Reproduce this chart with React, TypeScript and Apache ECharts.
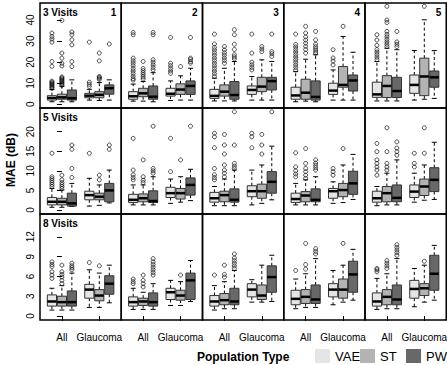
import React, { useEffect, useRef } from "react";
import * as echarts from "echarts";

const VISITS = ["3 Visits", "5 Visits", "8 Visits"];
const PANELS = ["1", "2", "3", "4", "5"];
const GROUPS = ["All", "Glaucoma"];
const METHODS = ["VAE", "ST", "PW"];
const Y_MAX_TICK = [40, 20, 12];
const Y_STEP = [10, 5, 3];
const X_TITLE = "Population Type";
const Y_TITLE = "MAE (dB)";

// [lower whisker, Q1, median, Q3, upper whisker]; per panel order:
// All-VAE, All-ST, All-PW, Glaucoma-VAE, Glaucoma-ST, Glaucoma-PW
const BOX_3V = [
  [[1.2, 2.0, 3.0, 4.1, 7.0], [1.2, 2.4, 3.3, 4.8, 8.5], [1.2, 2.0, 2.9, 6.8, 11.6], [2.0, 3.1, 4.1, 5.2, 7.1], [1.8, 3.1, 4.5, 6.0, 10.3], [2.0, 4.8, 7.6, 9.2, 11.6]],
  [[1.5, 2.4, 3.8, 6.0, 9.6], [1.5, 3.6, 5.2, 7.6, 10.8], [1.2, 2.4, 3.6, 8.7, 15.0], [1.8, 3.9, 5.0, 7.6, 11.1], [2.0, 4.7, 7.0, 9.7, 13.5], [2.0, 4.7, 8.7, 11.1, 17.1]],
  [[1.6, 2.8, 4.0, 7.1, 12.4], [1.6, 3.9, 6.0, 9.2, 17.1], [1.6, 2.4, 4.4, 10.8, 20.3], [2.0, 4.7, 6.8, 8.7, 13.2], [2.0, 6.0, 8.4, 12.8, 21.1], [2.0, 6.8, 11.0, 12.8, 20.3]],
  [[1.2, 2.4, 4.2, 8.1, 15.5], [1.5, 2.4, 5.5, 11.9, 21.4], [1.2, 2.0, 3.5, 11.1, 23.5], [2.0, 4.7, 6.5, 10.0, 16.3], [2.0, 8.1, 9.2, 17.9, 32.2], [2.0, 6.3, 11.3, 13.9, 24.7]],
  [[1.6, 3.3, 4.7, 10.5, 20.3], [1.6, 3.2, 8.7, 13.6, 26.6], [1.6, 3.2, 6.3, 12.8, 25.9], [2.0, 5.2, 9.2, 13.9, 25.5], [2.4, 4.1, 13.2, 21.9, 40.1], [2.8, 8.1, 12.8, 15.8, 25.5]],
];
const OUT_3V = [
  [[7.5, 8, 8.5, 9, 9.5, 10, 10.5, 11, 18, 20.3, 29.5, 31, 32.2, 33.8], [9, 9.5, 10, 10.5, 11, 11.5, 12, 12.5, 13, 18.2, 19.5, 21.9, 24.3, 39.8], [17.9, 20.3, 28.2, 30.6, 33, 34.3], [8.5, 9.5, 10.5, 29.5], [11.8, 12.3, 12.8, 13.2, 20.6, 24.3], [28.6]],
  [[11.5, 12.2, 13.3, 14.6, 15.8, 17, 18.3, 19.5, 20.6, 21.9, 33, 34.1], [12, 13, 14, 15, 16, 17, 20.3], [16.3, 17.5, 18.7, 20, 21.2, 33, 34.1], [14.7, 15.8, 17, 18.3, 19.5, 31.7], [17.9], [19.5, 20.3, 21.2, 21.9, 31.7]],
  [[13.2, 14.5, 15.8, 17, 18.3, 19.5, 20.8, 22, 23.3, 24.5, 25.8, 27, 28.6, 33.3], [19.5, 20.8, 22, 23.3, 24.5, 25.8, 27.4], [21.5, 22.5, 23.5, 26, 28.5, 33, 35.4], [16.3, 17.5, 18.7, 20, 24.3, 33.3], [25, 26.2, 27.4], [22.7, 24, 25, 33.3]],
  [[16.3, 17.5, 18.7, 20, 21.2, 22.4, 23.6, 24.8, 26, 27.2, 28.4, 33.3], [24.3, 26, 27.5, 29, 30.5, 32, 33.8, 37], [24.3, 25.3, 26.3, 27.3, 28.5, 30.6, 34.6], [18.7, 20.5, 22, 25.9], [37], []],
  [[21.2, 22.4, 23.6, 24.8, 26, 28, 30.5, 33], [27.4, 28.5, 29.6, 30.8, 32, 33.2, 34.6, 38.8, 40, 46.5], [27.4, 28.5, 29.6, 34.6], [], [46.5], []],
];

const BOX_5V = [
  [[0.7, 1.3, 2.1, 3.2, 5.5], [0.7, 1.3, 2.1, 3.0, 5.1], [0.9, 1.0, 1.7, 4.3, 6.8], [1.0, 2.6, 3.8, 4.8, 8.1], [1.2, 2.6, 3.4, 4.3, 6.4], [1.8, 2.1, 5.0, 6.8, 10.2]],
  [[1.3, 1.9, 2.6, 4.0, 6.4], [1.3, 2.1, 3.0, 4.1, 6.4], [1.3, 1.9, 2.3, 4.9, 8.5], [1.7, 3.2, 4.3, 5.8, 7.9], [2.0, 2.8, 4.3, 5.5, 8.5], [2.4, 3.8, 6.4, 8.2, 10.4]],
  [[1.1, 2.0, 3.0, 4.5, 6.0], [1.1, 2.1, 3.8, 4.8, 7.9], [1.1, 2.0, 2.6, 5.4, 10.2], [1.3, 3.4, 4.8, 6.2, 10.2], [1.7, 3.0, 4.8, 6.6, 11.5], [2.6, 4.3, 7.2, 9.8, 16.3]],
  [[1.3, 1.9, 2.8, 4.3, 6.8], [1.3, 2.1, 3.7, 4.7, 7.7], [1.3, 2.1, 2.6, 5.4, 8.5], [1.7, 3.0, 4.8, 5.5, 7.2], [1.9, 3.4, 5.1, 6.8, 11.5], [2.7, 4.0, 6.8, 9.9, 14.2]],
  [[1.1, 2.0, 3.0, 4.8, 6.0], [1.3, 2.1, 4.3, 6.0, 9.4], [1.3, 2.1, 3.1, 6.4, 12.8], [2.0, 3.2, 4.7, 6.4, 9.4], [2.5, 3.7, 6.0, 7.9, 11.5], [2.7, 4.7, 7.7, 10.8, 17.3]],
];
const OUT_5V = [
  [[6, 6.5, 7, 7.5, 8, 8.5, 14.5], [5.5, 6, 6.5, 7, 7.7, 8.9], [8.3, 10.6, 15.5, 16.6], [14.5], [7.7, 8.9], [15.5, 16.6]],
  [[7.7, 8.3, 9, 10.2, 18.3], [7, 7.6, 8.5, 12.8], [9.4, 10, 10.6, 21.4], [9.8, 18.3], [12.8], [21.4]],
  [[7.7, 8.3, 9, 10.6, 15.9, 18.7, 19.6], [8.5, 9.4, 10.2, 11.5, 14.3, 16.6, 19.3], [10.6, 11.2, 11.9, 16.6, 25.1], [15.9, 18.7, 19.6], [14.3, 16.6, 19.3], [25.1]],
  [[8.5, 9.2, 10, 11, 14.6], [8.1, 8.9, 9.8, 10.6, 11.9, 15.7], [10.2, 10.8, 11.4, 12, 12.8], [8.9, 9.8, 10.6], [15.7], []],
  [[8.9, 10.2, 11, 11.9, 12.8, 14.9, 17], [10.2, 11, 11.9, 14.9, 21], [14, 14.9, 15.8, 17.4], [11, 11.9, 14.5], [14.5, 21], []],
];

const BOX_8V = [
  [[0.9, 1.5, 2.2, 3.2, 4.2], [0.9, 1.5, 2.1, 3.0, 4.6], [0.9, 1.5, 2.1, 3.8, 6.5], [1.3, 2.7, 4.0, 4.8, 7.0], [1.3, 2.3, 3.1, 4.0, 6.5], [2.0, 3.3, 4.9, 6.1, 7.7]],
  [[1.0, 1.5, 2.1, 2.9, 4.2], [1.0, 1.6, 2.2, 2.7, 3.6], [1.0, 1.5, 2.1, 3.5, 4.9], [1.6, 2.5, 3.6, 4.2, 5.4], [1.6, 2.4, 3.1, 3.9, 5.2], [2.2, 2.5, 5.4, 6.5, 8.4]],
  [[0.9, 1.5, 2.2, 3.1, 4.6], [1.1, 1.7, 2.4, 3.4, 5.2], [1.1, 1.7, 2.2, 4.2, 6.9], [2.1, 2.9, 4.0, 4.9, 5.5], [2.1, 2.5, 3.1, 4.7, 7.7], [2.2, 3.6, 5.9, 7.6, 9.2]],
  [[1.1, 1.7, 2.6, 3.9, 5.6], [1.3, 1.9, 2.9, 4.0, 6.4], [1.3, 1.9, 2.5, 4.7, 8.7], [1.7, 2.9, 4.0, 4.9, 6.9], [2.1, 2.7, 4.0, 5.6, 7.7], [2.4, 3.6, 6.3, 8.3, 10.1]],
  [[1.0, 1.5, 2.2, 3.5, 5.7], [1.1, 1.7, 2.9, 4.0, 6.4], [1.1, 1.7, 2.5, 4.7, 8.7], [1.4, 2.7, 4.1, 5.4, 7.2], [2.1, 3.1, 4.2, 4.9, 7.7], [2.4, 3.9, 6.4, 9.2, 10.7]],
];
const OUT_8V = [
  [[5.7, 6.2, 6.7, 7.5, 7.8, 8.2], [4.9, 5.4, 5.9, 6.3, 6.7, 7.7], [7, 7.3, 7.6, 8.0], [8.1], [7.6], []],
  [[4.9, 5.2, 5.6], [4.4, 4.9, 5.4, 6.2], [6.2, 6.6, 7, 7.4, 7.8, 8.2, 8.7], [], [6.2], []],
  [[6.2], [5.9, 6.3, 7.7], [7.2, 7.6, 8, 8.4, 8.8, 9.4], [], [], []],
  [[6.9], [7.1, 7.8, 11], [9.4, 9.8, 10.2], [], [11], []],
  [[6.7, 7.0, 7.2], [7.2, 7.6, 8.0, 8.4], [9.2, 9.6, 10, 10.4, 10.8], [], [8.3], []],
];

const BOXES = [BOX_3V, BOX_5V, BOX_8V];
const OUTLIERS = [OUT_3V, OUT_5V, OUT_8V];

const COLORS = ["#e5e5e5", "#b3b3b3", "#686868"];
// x positions: group centre All = 0, Glaucoma = 1; neighbouring boxes 0.2667 apart
const STEP = 1 / 3.75;
const POS = [-STEP, 0, STEP, 1 - STEP, 1, 1 + STEP];

// panel frames (pixels)
const ROW_TOP = [3, 108, 214];
const ROW_H = [105, 106, 106];
const COL_LEFT = 40;
const COL_W = 81.25;
// data area inside each panel: from y(0) up to y(top tick), from x(All) to x(Glaucoma)
const ZERO_Y = [104.3, 210, 316];
const PX_PER_UNIT = [2.1075, 3.915, 6.6];
const DATA_X_OFF = 21.9;
const DATA_W = 37.4;
const FONT = "'Liberation Sans', Arial, Helvetica, sans-serif";

const makeRender = (fill: string) => (_params: any, api: any) => {
  const x = api.value(0);
  const lo = api.coord([x, api.value(1)]);
  const q1 = api.coord([x, api.value(2)]);
  const md = api.coord([x, api.value(3)]);
  const q3 = api.coord([x, api.value(4)]);
  const hi = api.coord([x, api.value(5)]);
  const unit = api.size([STEP, 0])[0];
  const hw = unit * 0.46;
  const cw = unit * 0.25;
  const cx = lo[0];
  const dash = { stroke: "#000", lineWidth: 1, lineDash: [3, 2.5] };
  const solid = { stroke: "#000", lineWidth: 1 };
  return {
    type: "group",
    children: [
      { type: "line", shape: { x1: cx, y1: q3[1], x2: cx, y2: hi[1] }, style: dash },
      { type: "line", shape: { x1: cx, y1: q1[1], x2: cx, y2: lo[1] }, style: dash },
      { type: "line", shape: { x1: cx - cw, y1: hi[1], x2: cx + cw, y2: hi[1] }, style: solid },
      { type: "line", shape: { x1: cx - cw, y1: lo[1], x2: cx + cw, y2: lo[1] }, style: solid },
      {
        type: "rect",
        shape: { x: cx - hw, y: q3[1], width: hw * 2, height: q1[1] - q3[1] },
        style: { fill, stroke: "#333", lineWidth: 1 },
      },
      { type: "line", shape: { x1: cx - hw, y1: md[1], x2: cx + hw, y2: md[1] }, style: { stroke: "#000", lineWidth: 2.5 } },
    ],
  };
};

function buildOption() {
  const grid: any[] = [];
  const xAxis: any[] = [];
  const yAxis: any[] = [];
  const series: any[] = [];
  const graphic: any[] = [];

  // frame grids (borders only)
  for (let r = 0; r < 3; r++) {
    for (let c = 0; c < 5; c++) {
      grid.push({
        left: COL_LEFT + c * COL_W,
        top: ROW_TOP[r],
        width: COL_W,
        height: ROW_H[r],
        show: true,
        borderColor: "#000",
        borderWidth: 1.5,
        backgroundColor: "transparent",
      });
      const gi = grid.length - 1;
      xAxis.push({ type: "value", gridIndex: gi, show: false, min: 0, max: 1 });
      yAxis.push({ type: "value", gridIndex: gi, show: false, min: 0, max: 1 });
    }
  }

  // data grids
  for (let r = 0; r < 3; r++) {
    const dataH = Y_MAX_TICK[r] * PX_PER_UNIT[r];
    const dataTop = ZERO_Y[r] - dataH;
    const panelBottom = ROW_TOP[r] + ROW_H[r];
    for (let c = 0; c < 5; c++) {
      const dataLeft = COL_LEFT + c * COL_W + DATA_X_OFF;
      grid.push({
        left: dataLeft,
        top: dataTop,
        width: DATA_W,
        height: dataH,
        show: false,
      });
      const g = grid.length - 1;
      const bottom = r === 2;
      const left = c === 0;
      xAxis.push({
        type: "value",
        gridIndex: g,
        min: 0,
        max: 1,
        interval: 1,
        offset: panelBottom - ZERO_Y[r],
        axisLine: { show: false },
        splitLine: { show: false },
        axisTick: { show: bottom, length: 5, lineStyle: { color: "#000", width: 1 } },
        axisLabel: { show: false },
      });
      yAxis.push({
        type: "value",
        gridIndex: g,
        min: 0,
        max: Y_MAX_TICK[r],
        interval: Y_STEP[r],
        offset: DATA_X_OFF,
        axisLine: { show: false },
        splitLine: { show: false },
        axisTick: { show: left, length: 5, lineStyle: { color: "#000", width: 1 } },
        axisLabel: {
          show: left,
          rotate: 90,
          margin: 5,
          fontSize: 10,
          color: "#000",
          fontFamily: FONT,
        },
      });

      if (bottom) {
        GROUPS.forEach((label, k) => {
          graphic.push({
            type: "text",
            x: dataLeft + k * DATA_W,
            y: 332,
            style: { text: label, font: `10px ${FONT}`, fill: "#000", textAlign: "center", textVerticalAlign: "top" },
          });
        });
      }

      const boxes = BOXES[r][c];
      for (let m = 0; m < 3; m++) {
        series.push({
          type: "custom",
          name: METHODS[m],
          xAxisIndex: g,
          yAxisIndex: g,
          clip: false,
          itemStyle: { color: COLORS[m] },
          renderItem: makeRender(COLORS[m]),
          encode: { x: 0, y: [1, 2, 3, 4, 5] },
          data: [
            [POS[m], ...boxes[m]],
            [POS[3 + m], ...boxes[3 + m]],
          ],
          silent: true,
        });
      }
      const outs: number[][] = [];
      OUTLIERS[r][c].forEach((list: number[], b: number) => {
        list.forEach((v) => outs.push([POS[b], v]));
      });
      series.push({
        type: "scatter",
        name: "outliers",
        xAxisIndex: g,
        yAxisIndex: g,
        clip: false,
        symbol: "circle",
        symbolSize: 4,
        itemStyle: { color: "rgba(0,0,0,0)", borderColor: "#000", borderWidth: 0.85 },
        data: outs,
        silent: true,
      });

      if (c === 0) {
        graphic.push({
          type: "text",
          x: COL_LEFT + 3,
          y: ROW_TOP[r] + 4,
          style: { text: VISITS[r], font: `bold 10px ${FONT}`, fill: "#000", textAlign: "left", textVerticalAlign: "top" },
        });
      }
      if (r === 0) {
        graphic.push({
          type: "text",
          x: COL_LEFT + (c + 1) * COL_W - 5,
          y: ROW_TOP[r] + 4,
          style: { text: PANELS[c], font: `bold 10px ${FONT}`, fill: "#000", textAlign: "right", textVerticalAlign: "top" },
        });
      }
    }
  }

  // axis titles
  graphic.push({
    type: "text",
    x: COL_LEFT + 2.5 * COL_W,
    y: 357,
    style: { text: X_TITLE, font: `bold 12px ${FONT}`, fill: "#000", textAlign: "center", textVerticalAlign: "middle" },
  });
  graphic.push({
    type: "text",
    x: 11,
    y: 160,
    rotation: Math.PI / 2,
    style: { text: Y_TITLE, font: `bold 12px ${FONT}`, fill: "#000", textAlign: "center", textVerticalAlign: "middle" },
  });

  const legendBase = {
    orient: "horizontal",
    top: 349,
    padding: 0,
    itemWidth: 15,
    itemHeight: 14,
    icon: "rect",
    itemStyle: { borderWidth: 0 },
    textStyle: { fontSize: 13, color: "#000", fontFamily: FONT },
    selectedMode: false,
  };

  return {
    animation: false,
    backgroundColor: "#fff",
    textStyle: { fontFamily: FONT },
    grid,
    xAxis,
    yAxis,
    series,
    graphic,
    legend: [
      { ...legendBase, left: 315, data: [METHODS[0]] },
      { ...legendBase, left: 360, data: [METHODS[1]] },
      { ...legendBase, left: 406, data: [METHODS[2]] },
    ],
  };
}

export default function App() {
  const ref = useRef<HTMLDivElement>(null);
  useEffect(() => {
    if (!ref.current) return;
    const chart = echarts.init(ref.current, undefined, { renderer: "svg" });
    chart.setOption(buildOption() as any);
    return () => chart.dispose();
  }, []);
  return (
    <div
      ref={ref}
      style={{ position: "fixed", left: 0, top: 0, width: 447, height: 365, background: "#fff" }}
    />
  );
}
